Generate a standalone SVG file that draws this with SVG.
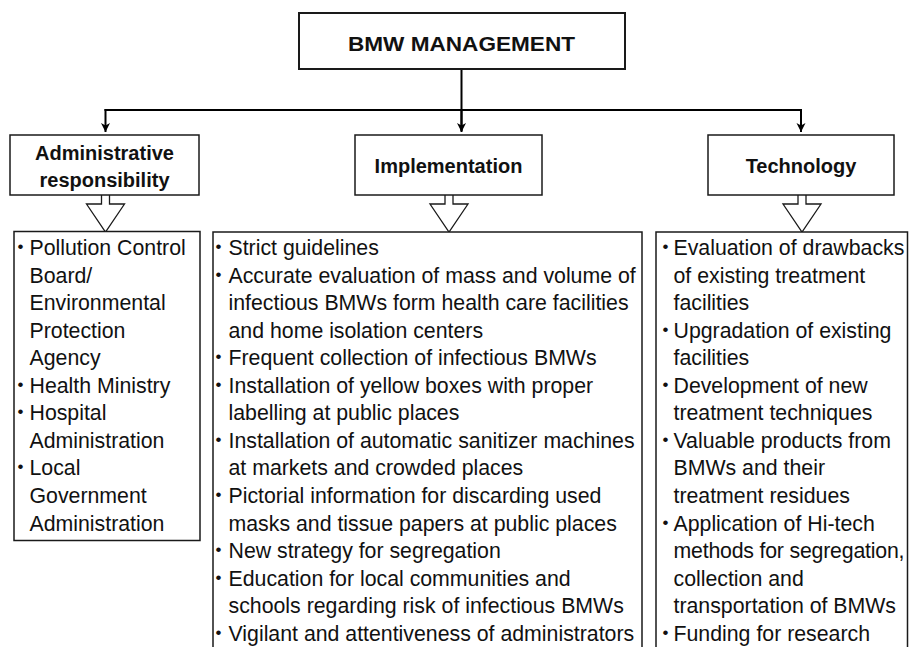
<svg xmlns="http://www.w3.org/2000/svg" width="909" height="647" viewBox="0 0 909 647">
<style>
.box{fill:#fff;stroke:#1a1a1a;stroke-width:1.5}
.top{fill:#fff;stroke:#1a1a1a;stroke-width:2}
.conn{fill:none;stroke:#000;stroke-width:2}
.barrow{fill:#fff;stroke:#1a1a1a;stroke-width:1.3;stroke-linejoin:miter}
.h{font-family:"Liberation Sans",Arial,sans-serif;font-weight:bold;font-size:20px;fill:#111;text-anchor:middle}
.t{font-family:"Liberation Sans",Arial,sans-serif;font-size:21.3px;fill:#111}
.b{font-family:"Liberation Sans",Arial,sans-serif;font-size:17px;fill:#111;text-anchor:middle}
</style>
<defs>
<marker id="ah" viewBox="0 0 10 10" refX="9" refY="5" markerWidth="10" markerHeight="10" markerUnits="userSpaceOnUse" orient="auto">
<path d="M0,0.5 L9,5 L0,9.5 L2.5,5 Z" fill="#000"/>
</marker>
</defs>

<g id="connectors">
<path class="conn" d="M461.5,69 V131"/>
<path class="conn" d="M104.5,110 H801"/>
<path class="conn" d="M105.5,109 V132" marker-end="url(#ah)"/>
<path class="conn" d="M461.5,109 V132" marker-end="url(#ah)"/>
<path class="conn" d="M801,109 V132" marker-end="url(#ah)"/>
<path class="barrow" d="M101.5,195 V204 H86.5 L105.5,232 L124.5,204 H109.5 V195"/>
<path class="barrow" d="M445,195 V204 H430 L449,232 L468,204 H453 V195"/>
<path class="barrow" d="M798,195 V204 H783 L802,232 L821,204 H806 V195"/>
</g>

<g id="bmw-management">
<rect class="top" x="299" y="13" width="326" height="56"/>
<text class="h" x="461.5" y="51" font-size="24.5" textLength="227" lengthAdjust="spacingAndGlyphs">BMW MANAGEMENT</text>
</g>

<g id="administrative-responsibility">
<rect class="box" x="10" y="135" width="189" height="60"/>
<text class="h" x="104.5" y="160">Administrative</text>
<text class="h" x="104.5" y="187">responsibility</text>
</g>

<g id="implementation">
<rect class="box" x="355" y="135" width="187" height="60"/>
<text class="h" x="448.5" y="173">Implementation</text>
</g>

<g id="technology">
<rect class="box" x="708" y="135" width="186" height="60"/>
<text class="h" x="801" y="173">Technology</text>
</g>

<g id="admin-list">
<rect class="box" x="14" y="231.5" width="186" height="309"/>
<text class="b" x="20.5" y="252">•</text>
<text class="b" x="20.5" y="389.75">•</text>
<text class="b" x="20.5" y="417.3">•</text>
<text class="b" x="20.5" y="472.4">•</text>
<text class="t" x="29.5" y="255">Pollution Control</text>
<text class="t" x="29.5" y="282.55">Board/</text>
<text class="t" x="29.5" y="310.1">Environmental</text>
<text class="t" x="29.5" y="337.65">Protection</text>
<text class="t" x="29.5" y="365.2">Agency</text>
<text class="t" x="29.5" y="392.75">Health Ministry</text>
<text class="t" x="29.5" y="420.3">Hospital</text>
<text class="t" x="29.5" y="447.85">Administration</text>
<text class="t" x="29.5" y="475.4">Local</text>
<text class="t" x="29.5" y="502.95">Government</text>
<text class="t" x="29.5" y="530.5">Administration</text>
</g>

<g id="implementation-list">
<path class="box" d="M213,650 V232 H642 V650"/>
<text class="b" x="218.5" y="252">•</text>
<text class="b" x="218.5" y="279.55">•</text>
<text class="b" x="218.5" y="362.2">•</text>
<text class="b" x="218.5" y="389.75">•</text>
<text class="b" x="218.5" y="444.85">•</text>
<text class="b" x="218.5" y="499.95">•</text>
<text class="b" x="218.5" y="555.05">•</text>
<text class="b" x="218.5" y="582.6">•</text>
<text class="b" x="218.5" y="637.7">•</text>
<text class="t" x="228.5" y="255">Strict guidelines</text>
<text class="t" x="228.5" y="282.55">Accurate evaluation of mass and volume of</text>
<text class="t" x="228.5" y="310.1">infectious BMWs form health care facilities</text>
<text class="t" x="228.5" y="337.65">and home isolation centers</text>
<text class="t" x="228.5" y="365.2">Frequent collection of infectious BMWs</text>
<text class="t" x="228.5" y="392.75">Installation of yellow boxes with proper</text>
<text class="t" x="228.5" y="420.3">labelling at public places</text>
<text class="t" x="228.5" y="447.85">Installation of automatic sanitizer machines</text>
<text class="t" x="228.5" y="475.4">at markets and crowded places</text>
<text class="t" x="228.5" y="502.95">Pictorial information for discarding used</text>
<text class="t" x="228.5" y="530.5">masks and tissue papers at public places</text>
<text class="t" x="228.5" y="558.05">New strategy for segregation</text>
<text class="t" x="228.5" y="585.6">Education for local communities and</text>
<text class="t" x="228.5" y="613.15">schools regarding risk of infectious BMWs</text>
<text class="t" x="228.5" y="640.7">Vigilant and attentiveness of administrators</text>
</g>

<g id="technology-list">
<path class="box" d="M656,650 V232 H907.5 V650"/>
<text class="b" x="665.5" y="252">•</text>
<text class="b" x="665.5" y="334.65">•</text>
<text class="b" x="665.5" y="389.75">•</text>
<text class="b" x="665.5" y="444.85">•</text>
<text class="b" x="665.5" y="527.5">•</text>
<text class="b" x="665.5" y="637.7">•</text>
<text class="t" x="673.5" y="255">Evaluation of drawbacks</text>
<text class="t" x="673.5" y="282.55">of existing treatment</text>
<text class="t" x="673.5" y="310.1">facilities</text>
<text class="t" x="673.5" y="337.65">Upgradation of existing</text>
<text class="t" x="673.5" y="365.2">facilities</text>
<text class="t" x="673.5" y="392.75">Development of new</text>
<text class="t" x="673.5" y="420.3">treatment techniques</text>
<text class="t" x="673.5" y="447.85">Valuable products from</text>
<text class="t" x="673.5" y="475.4">BMWs and their</text>
<text class="t" x="673.5" y="502.95">treatment residues</text>
<text class="t" x="673.5" y="530.5">Application of Hi-tech</text>
<text class="t" x="673.5" y="558.05" textLength="231">methods for segregation,</text>
<text class="t" x="673.5" y="585.6">collection and</text>
<text class="t" x="673.5" y="613.15">transportation of BMWs</text>
<text class="t" x="673.5" y="640.7">Funding for research</text>
</g>
</svg>
